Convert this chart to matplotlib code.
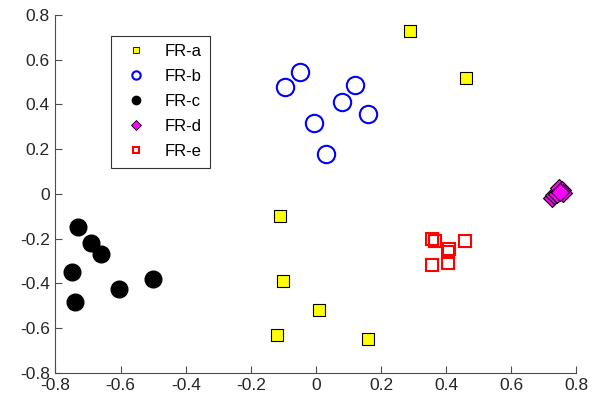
import matplotlib.pyplot as plt
from matplotlib.lines import Line2D

plt.rcParams['font.family'] = ['Liberation Sans', 'DejaVu Sans']

# cluster coordinates (2D embedding)
fra_x = [0.29, 0.46, -0.11, -0.10, 0.01, -0.12, 0.16]
fra_y = [0.73, 0.52, -0.10, -0.39, -0.52, -0.63, -0.65]

frb_x = [-0.095, -0.05, 0.12, 0.08, 0.16, -0.005, 0.03]
frb_y = [0.48, 0.545, 0.485, 0.41, 0.355, 0.315, 0.18]

frc_x = [-0.73, -0.69, -0.66, -0.75, -0.74, -0.605, -0.50]
frc_y = [-0.15, -0.22, -0.27, -0.35, -0.485, -0.425, -0.38]

frd_x = [0.725, 0.73, 0.74, 0.745, 0.755, 0.76, 0.75]
frd_y = [-0.02, -0.005, 0.0, 0.025, 0.015, 0.005, 0.01]

fre_x = [0.357, 0.365, 0.41, 0.405, 0.458, 0.355, 0.405]
fre_y = [-0.20, -0.21, -0.245, -0.26, -0.213, -0.32, -0.308]

names = ['FR-a', 'FR-b', 'FR-c', 'FR-d', 'FR-e']

fig = plt.figure(figsize=(6.01, 4.05), dpi=100)
ax = fig.add_axes([0.0923, 0.0798, 0.8669, 0.8832])

ax.plot(fra_x, fra_y, 's', ms=9.3, mfc='#FFFF00', mec='k', mew=0.8, ls='none')
ax.plot(frb_x, frb_y, 'o', ms=12.5, mfc='none', mec='#0000FF', mew=1.5, ls='none')
ax.plot(frc_x, frc_y, 'o', ms=12, mfc='k', mec='k', ls='none')
ax.plot(frd_x, frd_y, 'D', ms=9.3, mfc='#FF00FF', mec='k', mew=0.8, ls='none')
ax.plot(fre_x, fre_y, 's', ms=9.3, mfc='none', mec='#FF0000', mew=1.5, ls='none')

ax.set_xlim(-0.8, 0.8)
ax.set_ylim(-0.8, 0.8)
ticks = [-0.8, -0.6, -0.4, -0.2, 0, 0.2, 0.4, 0.6, 0.8]
ax.set_xticks(ticks)
ax.set_yticks(ticks)
ax.set_xticklabels(['-0.8', '-0.6', '-0.4', '-0.2', '0', '0.2', '0.4', '0.6', '0.8'])
ax.set_yticklabels(['-0.8', '-0.6', '-0.4', '-0.2', '0', '0.2', '0.4', '0.6', '0.8'])

axis_color = '#4d4d4d'
for side in ['top', 'right']:
    ax.spines[side].set_visible(False)
for side in ['left', 'bottom']:
    ax.spines[side].set_color(axis_color)
    ax.spines[side].set_linewidth(0.8)
ax.tick_params(direction='in', length=5, width=0.8, color=axis_color,
               labelcolor='#262626', labelsize=12.5, pad=4)

handles = [
    Line2D([], [], marker='s', ls='none', ms=5, mfc='#FFFF00', mec='k', mew=0.6),
    Line2D([], [], marker='o', ls='none', ms=6, mfc='none', mec='#0000FF', mew=1.5),
    Line2D([], [], marker='o', ls='none', ms=6, mfc='k', mec='k'),
    Line2D([], [], marker='D', ls='none', ms=5, mfc='#FF00FF', mec='k', mew=0.6),
    Line2D([], [], marker='s', ls='none', ms=5, mfc='none', mec='#FF0000', mew=1.5),
]
leg = ax.legend(handles, names, loc='upper left',
                bbox_to_anchor=(111 / 601, 1 - 36 / 405),
                bbox_transform=fig.transFigure, fontsize=12,
                frameon=True, fancybox=False, edgecolor='k',
                borderpad=0.5, labelspacing=0.6, handlelength=2.0,
                handletextpad=0.7, borderaxespad=0)
leg.get_frame().set_linewidth(0.8)

fig.savefig('out.png', dpi=100)
